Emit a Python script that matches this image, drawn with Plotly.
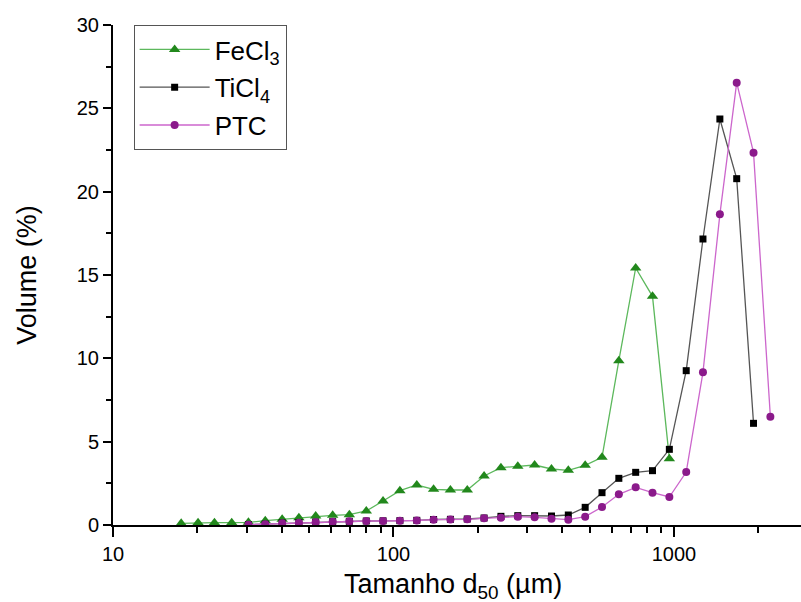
import plotly.graph_objects as go

# Particle size bins (µm)
sizes = [17.5, 20.1, 23.0, 26.5, 30.4, 34.9, 40.1, 46.0, 52.8, 60.7,
         69.6, 80.0, 91.8, 105.4, 121.1, 139.0, 159.6, 183.3, 210.4, 241.6,
         277.5, 318.6, 365.9, 420.1, 482.5, 554.0, 636.1, 730.4, 838.6, 963.0,
         1106, 1269, 1458, 1674, 1922, 2207]

# FeCl3: bins 0..29
fecl3_x = sizes[0:30]
fecl3_y = [0.10, 0.14, 0.14, 0.14, 0.16, 0.26, 0.34, 0.44, 0.54, 0.58,
           0.62, 0.84, 1.44, 2.06, 2.40, 2.14, 2.10, 2.10, 2.94, 3.44,
           3.52, 3.60, 3.36, 3.28, 3.58, 4.06, 9.86, 15.42, 13.72, 3.98]

# TiCl4: bins 4..34
ticl4_x = sizes[4:35]
ticl4_y = [0.02, 0.05, 0.12, 0.15, 0.18, 0.20, 0.22, 0.24, 0.25, 0.26,
           0.28, 0.33, 0.34, 0.36, 0.42, 0.52, 0.56, 0.56, 0.54, 0.60,
           1.06, 1.94, 2.80, 3.16, 3.26, 4.54, 9.26, 17.16, 24.36, 20.78,
           6.10]

# PTC: bins 4..35
ptc_x = sizes[4:36]
ptc_y = [0.02, 0.05, 0.10, 0.14, 0.17, 0.20, 0.22, 0.24, 0.24, 0.25,
         0.27, 0.32, 0.33, 0.34, 0.40, 0.44, 0.50, 0.46, 0.38, 0.32,
         0.50, 1.08, 1.84, 2.26, 1.94, 1.68, 3.18, 9.16, 18.64, 26.54,
         22.34, 6.50]

x_tickvals = [10, 100, 1000]
x_ticktext = ["10", "100", "1000"]
x_minor = [20, 30, 40, 50, 60, 70, 80, 90,
           200, 300, 400, 500, 600, 700, 800, 900, 2000, 3000]
y_tickvals = [0, 5, 10, 15, 20, 25, 30]

FONT = "Liberation Sans, Arial, sans-serif"

fig = go.Figure()
fig.add_trace(go.Scatter(
    x=fecl3_x, y=fecl3_y, mode="lines+markers", name="FeCl<sub>3</sub>",
    legendgroup="a",
    line=dict(color="#5cb85c", width=1.3),
    marker=dict(symbol="triangle-up", size=10, color="#22881c")))
fig.add_trace(go.Scatter(
    x=ticl4_x, y=ticl4_y, mode="lines+markers", name="TiCl<sub>4</sub>",
    legendgroup="b",
    line=dict(color="#555555", width=1.3),
    marker=dict(symbol="square", size=7, color="black")))
fig.add_trace(go.Scatter(
    x=ptc_x, y=ptc_y, mode="lines+markers", name="PTC",
    legendgroup="c",
    line=dict(color="#cc66cc", width=1.3),
    marker=dict(symbol="circle", size=8, color="#8b1a8b")))

fig.update_layout(
    width=801, height=602,
    margin=dict(l=113, r=0, t=25, b=77),
    paper_bgcolor="white", plot_bgcolor="white",
    font=dict(family=FONT, color="black", size=20),
    showlegend=True,
    legend=dict(x=0.03, y=1.0, xanchor="left", yanchor="top",
                bordercolor="#555555", borderwidth=1, bgcolor="white",
                font=dict(size=26, family=FONT),
                tracegroupgap=1, itemwidth=70),
    xaxis=dict(type="log", range=[1, 3.453], automargin=False,
               showgrid=False, zeroline=False,
               showline=True, linecolor="black", linewidth=2,
               ticks="outside", ticklen=10, tickwidth=2, tickcolor="black",
               tickvals=x_tickvals, ticktext=x_ticktext,
               tickfont=dict(size=20),
               minor=dict(tickvals=x_minor, ticks="outside", ticklen=6,
                          tickwidth=2, tickcolor="black", showgrid=False)),
    yaxis=dict(range=[0, 30], automargin=False,
               showgrid=False, zeroline=False,
               showline=True, linecolor="black", linewidth=2,
               ticks="outside", ticklen=8, tickwidth=2, tickcolor="black",
               tickvals=y_tickvals,
               tickfont=dict(size=20),
               minor=dict(dtick=2.5, ticks="outside", ticklen=5,
                          tickwidth=2, tickcolor="black", showgrid=False),
               title=dict(text="Volume (%)", font=dict(size=27), standoff=32)),
    annotations=[dict(text="Tamanho d<sub>50</sub> (µm)", xref="paper", yref="paper",
                      x=0.494, y=0, xanchor="center", yanchor="middle",
                      yshift=-61, showarrow=False, font=dict(size=27))],
)

fig.write_html("out.html")
